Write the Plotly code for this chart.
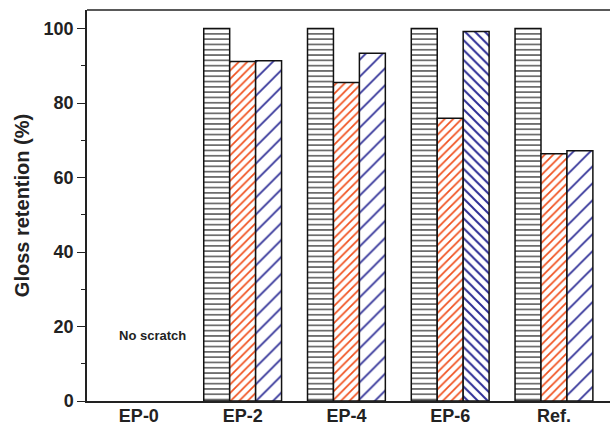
import plotly.graph_objects as go

categories = ["EP-0", "EP-2", "EP-4", "EP-6", "Ref."]
series_black = [None, 100, 100, 100, 100]
series_red = [None, 91.2, 85.5, 75.9, 66.4]
series_blue = [None, 91.4, 93.4, 99.2, 67.2]
blue_shapes = ["/", "/", "/", "\\", "/"]
blue_sizes = [12, 12, 12, 7, 12]
blue_solid = [0.14, 0.14, 0.14, 0.28, 0.14]
note_text = "No scratch"
y_title = "Gloss retention (%)"
y_ticks = [0, 20, 40, 60, 80, 100]

FONT = "Liberation Sans, Arial, sans-serif"
RED = "#F0501E"
BLUE = "#2E2E96"

fig = go.Figure()
fig.add_trace(go.Bar(
    x=categories, y=series_black,
    marker=dict(color="white", line=dict(color="#111111", width=1.5),
                pattern=dict(shape="-", fgcolor="#222222", bgcolor="white",
                             fgopacity=0.85, size=5.3, solidity=0.26)),
    showlegend=False))
fig.add_trace(go.Bar(
    x=categories, y=series_red,
    marker=dict(color="white", line=dict(color="#111111", width=1.5),
                pattern=dict(shape="/", fgcolor=RED, bgcolor="white",
                             fgopacity=1, size=6, solidity=0.28)),
    showlegend=False))
fig.add_trace(go.Bar(
    x=categories, y=series_blue,
    marker=dict(color="white", line=dict(color="#111111", width=1.5),
                pattern=dict(shape=blue_shapes, fgcolor=BLUE, bgcolor="white",
                             fgopacity=1, size=blue_sizes, solidity=blue_solid)),
    showlegend=False))

fig.add_annotation(x=0.13, y=17.6, xref="x", yref="y", text="<b>" + note_text + "</b>",
                   showarrow=False, font=dict(family=FONT, size=13, color="#222222"))

# top frame line of the plot area
fig.add_shape(type="line", xref="paper", yref="paper", x0=0, x1=1, y0=1, y1=1,
              line=dict(color="#222222", width=1.5))

fig.update_layout(
    width=610, height=425,
    margin=dict(l=87, r=0, t=10, b=24),
    paper_bgcolor="white", plot_bgcolor="white",
    barmode="group", bargap=0.25, bargroupgap=0,
    font=dict(family=FONT, color="#222222"),
    hovermode=False,
)
fig.update_xaxes(
    type="category", range=[-0.5, 4.54], automargin=False,
    showline=True, linecolor="#222222", linewidth=1.5, mirror=False,
    ticks="", showgrid=False, zeroline=False,
    ticklabelstandoff=-2,
    tickfont=dict(family=FONT, size=18, color="#222222"),
    tickprefix="<b>", ticksuffix="</b>",
)
fig.update_yaxes(
    range=[0, 105], tickvals=y_ticks, automargin=False, mirror=False,
    ticktext=["<b>%d</b>" % v for v in y_ticks],
    showline=True, linecolor="#222222", linewidth=1.5,
    ticks="outside", ticklen=8, tickwidth=1.3, tickcolor="#222222",
    minor=dict(dtick=10, tick0=0, ticks="outside", ticklen=4, tickwidth=1.2, tickcolor="#222222", showgrid=False),
    showgrid=False, zeroline=False,
    tickfont=dict(family=FONT, size=18, color="#222222"),
    title=dict(text="<b>" + y_title + "</b>", font=dict(family=FONT, size=20, color="#222222"), standoff=9),
)

fig.write_html("out.html", config={"displayModeBar": False},
               post_script="document.body.style.margin='0';document.body.style.overflow='hidden';")
